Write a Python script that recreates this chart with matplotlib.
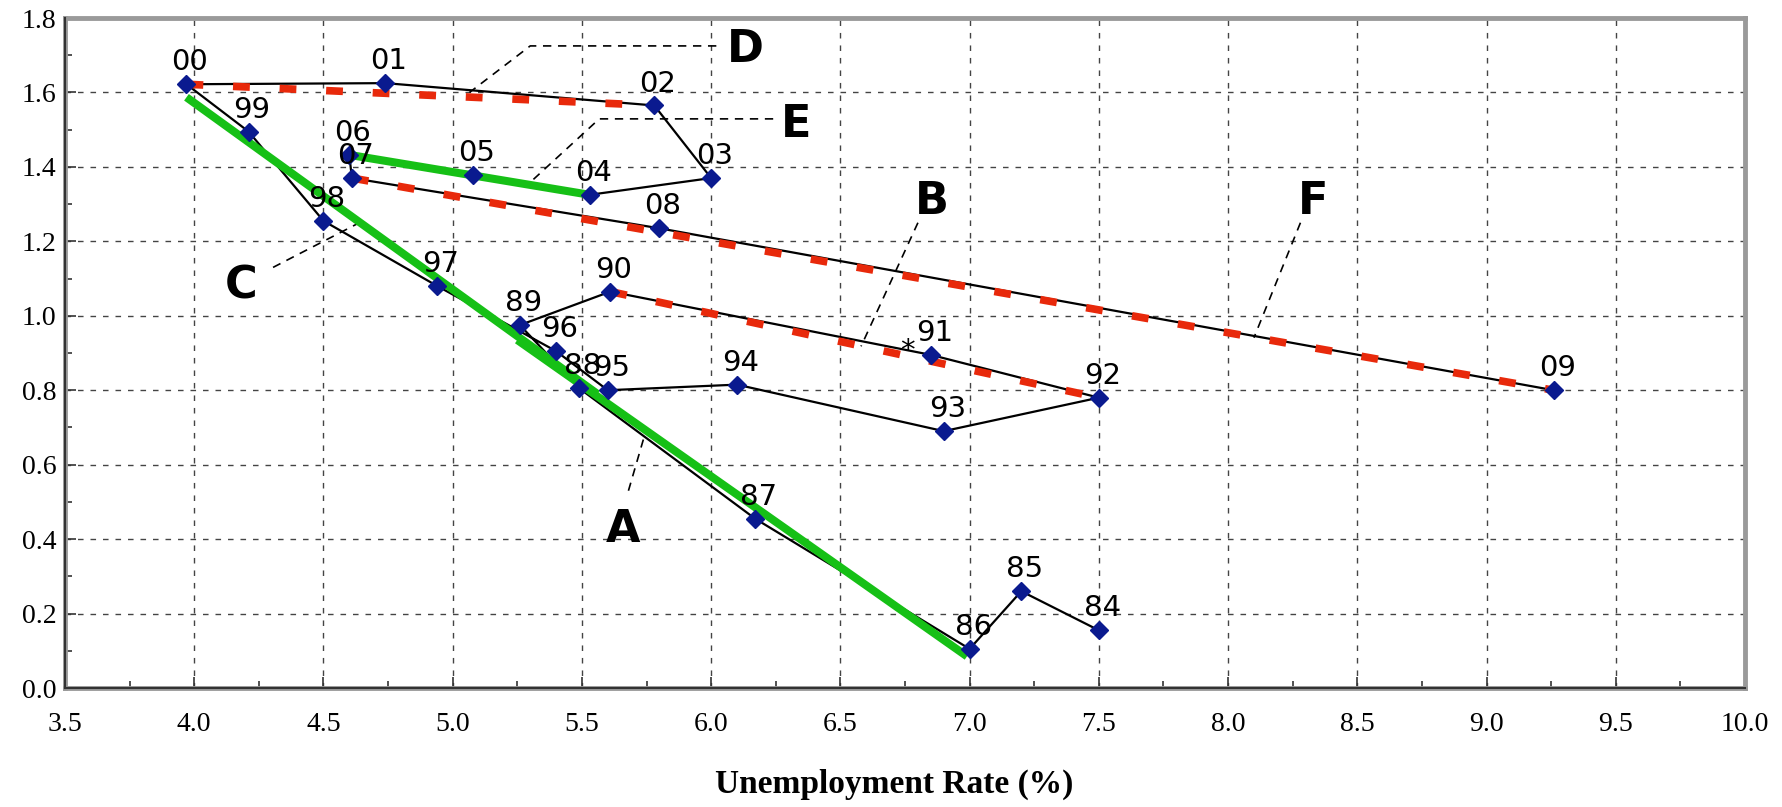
import numpy as np
import matplotlib
matplotlib.use("Agg")
import matplotlib.pyplot as plt
from matplotlib.ticker import MultipleLocator, FormatStrFormatter

# point labels (years) and their coordinates
years = ["84", "85", "86", "87", "88", "89", "90", "91", "92", "93", "94", "95", "96",
         "97", "98", "99", "00", "01", "02", "03", "04", "05", "06", "07", "08", "09"]
unemp = [7.50, 7.20, 7.00, 6.17, 5.49, 5.26, 5.61, 6.85, 7.50, 6.90, 6.10, 5.60, 5.40,
         4.94, 4.50, 4.21, 3.97, 4.74, 5.78, 6.00, 5.53, 5.08, 4.60, 4.61, 5.80, 9.26]
yval = [0.155, 0.26, 0.105, 0.455, 0.805, 0.975, 1.065, 0.895, 0.78, 0.69, 0.815, 0.80, 0.905,
        1.08, 1.255, 1.495, 1.622, 1.625, 1.565, 1.37, 1.325, 1.378, 1.432, 1.37, 1.235, 0.80]

# red dashed chords between two years
red_pairs = [("00", "02"), ("07", "09"), ("90", "92")]

# green trend segments (x0, y0, x1, y1)
green_x = [[3.97, 5.56], [5.25, 6.99], [4.62, 5.53]]
green_y = [[1.587, 0.79], [0.935, 0.085], [1.43, 1.325]]

# letter callouts: letter position and leader line
callouts = [
    ("A", (5.66, 0.425), [5.68, 5.74], [0.53, 0.673]),
    ("B", (6.855, 1.306), [6.80, 6.58], [1.25, 0.918]),
    ("C", (4.18, 1.08), [4.305, 4.65], [1.13, 1.254]),
    ("D", (6.134, 1.716), [6.02, 5.30, 5.065], [1.725, 1.725, 1.60]),
    ("E", (6.33, 1.514), [6.24, 5.567, 5.285], [1.529, 1.529, 1.349]),
    ("F", (8.33, 1.306), [8.28, 8.10], [1.25, 0.941]),
]

W, H = 1782, 807
fig = plt.figure(figsize=(W / 100, H / 100), dpi=100)
ax = fig.add_axes([65 / W, 1 - 688 / H, (1745 - 65) / W, (688 - 18) / H])

ax.plot(unemp, yval, color="black", lw=1.6, zorder=3)

for (x0, x1), (y0, y1) in zip(green_x, green_y):
    ax.plot([x0, x1], [y0, y1], color="#16c016", lw=5.8, solid_capstyle="butt", zorder=4)

for a, b in red_pairs:
    i, j = years.index(a), years.index(b)
    ax.plot([unemp[i], unemp[j]], [yval[i], yval[j]], color="#e8290b", lw=5.5,
            dashes=(2.2, 3.9), dash_capstyle="butt", zorder=5)

ax.plot(unemp, yval, linestyle="none", marker="D", markersize=9.5,
        color="#0a1a8f", zorder=6)

for lab, x, y in zip(years, unemp, yval):
    ax.annotate(lab, (x, y), xytext=(2.5, 10), textcoords="offset points",
                ha="center", va="baseline", fontsize=21, family="DejaVu Sans", zorder=7)

ax.text(6.76, 0.905, "*", ha="center", va="center", fontsize=21, zorder=7)

for letter, (lx, ly), xs, ys in callouts:
    ax.plot(xs, ys, color="black", lw=1.2, dashes=(5, 4), zorder=2)
    ax.text(lx, ly, letter, ha="center", va="center", fontsize=32,
            fontweight="bold", family="DejaVu Sans", zorder=7)

ax.set_xlim(3.5, 10.0)
ax.set_ylim(0, 1.8)
ax.xaxis.set_major_locator(MultipleLocator(0.5))
ax.xaxis.set_minor_locator(MultipleLocator(0.25))
ax.yaxis.set_major_locator(MultipleLocator(0.2))
ax.yaxis.set_minor_locator(MultipleLocator(0.1))
ax.xaxis.set_major_formatter(FormatStrFormatter("%.1f"))
ax.yaxis.set_major_formatter(FormatStrFormatter("%.1f"))
ax.grid(True, which="major", color="#444444", lw=1.0, linestyle=(0, (4, 5)))

for lab in ax.get_xticklabels() + ax.get_yticklabels():
    lab.set_family("Liberation Serif")
    lab.set_fontsize(20)
ax.tick_params(axis="x", which="both", direction="in", pad=17, top=False)
ax.tick_params(axis="y", which="both", direction="in", pad=6, right=False)
ax.tick_params(which="major", length=8, width=1.2, color="#333333")
ax.tick_params(which="minor", length=5, width=1.2, color="#333333")

for s in ax.spines.values():
    s.set_color("#9a9a9a")
    s.set_linewidth(3.5)
ax.axvline(3.5, color="#333333", lw=1.5, zorder=8, clip_on=False)
ax.axhline(0.0, color="#333333", lw=1.5, zorder=8, clip_on=False)

fig.text(894 / W, 1 - 784 / H, "Unemployment Rate (%)", ha="center", va="center",
         fontsize=24, fontweight="bold", family="Liberation Serif")

fig.savefig("out.png", dpi=100)
